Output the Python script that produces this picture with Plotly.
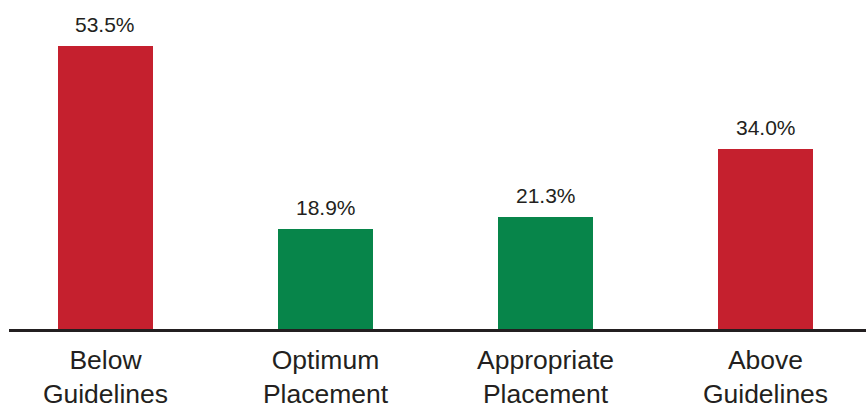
import plotly.graph_objects as go

categories = ["Below<br>Guidelines", "Optimum<br>Placement", "Appropriate<br>Placement", "Above<br>Guidelines"]
values = [53.5, 18.9, 21.3, 34.0]
labels = ["53.5%", "18.9%", "21.3%", "34.0%"]
colors = ["#c5202e", "#07854a", "#07854a", "#c5202e"]

text_color = "#231f20"
font_family = "Arial, Liberation Sans, sans-serif"

fig = go.Figure()
fig.add_trace(go.Bar(
    x=list(range(len(categories))),
    y=values,
    marker=dict(color=colors, line=dict(width=0)),
    width=0.432,
    hoverinfo="skip",
))

for i, (v, t) in enumerate(zip(values, labels)):
    fig.add_annotation(
        x=i, y=v, text=t, showarrow=False,
        xanchor="center", yanchor="bottom", yshift=8,
        font=dict(family=font_family, size=21, color=text_color),
    )

fig.update_layout(
    width=866, height=410,
    margin=dict(l=9, r=0, t=0, b=81, autoexpand=False),
    paper_bgcolor="white", plot_bgcolor="white",
    showlegend=False,
    bargap=0,
    xaxis=dict(
        range=[-0.4386, 3.4568],
        tickmode="array",
        tickvals=list(range(len(categories))),
        ticktext=categories,
        tickfont=dict(family=font_family, size=26.5, color=text_color),
        ticklabelstandoff=5,
        automargin=False,
        showline=True, linecolor="#231f20", linewidth=3,
        showgrid=False, zeroline=False, ticks="",
        fixedrange=True,
    ),
    yaxis=dict(
        range=[0, 62.3],
        visible=False,
        showgrid=False, zeroline=False,
        fixedrange=True,
    ),
)

fig.write_html("out.html")
